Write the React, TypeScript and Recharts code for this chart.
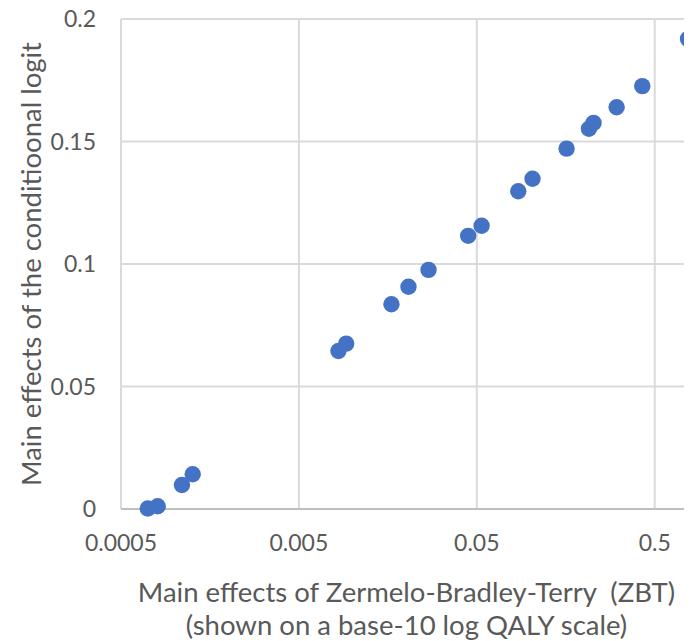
import { ScatterChart, Scatter, XAxis, YAxis, CartesianGrid } from 'recharts';

// ZBT main effects (x, log scale) vs conditional logit main effects (y)
const zbtEffects = [
  0.000707, 0.000804, 0.0011, 0.001265, 0.00834, 0.00922, 0.01656, 0.02065, 0.02676, 0.0447,
  0.0532, 0.0855, 0.1028, 0.1598, 0.2134, 0.2265, 0.3053, 0.4256, 0.7696,
];
const clogitEffects = [
  0.0002, 0.0011, 0.0098, 0.0142, 0.0645, 0.0675, 0.0836, 0.0907, 0.0976, 0.1115,
  0.1156, 0.1297, 0.1348, 0.1471, 0.1552, 0.1576, 0.164, 0.1726, 0.1919,
];
const xTicks = [0.0005, 0.005, 0.05, 0.5];
const yTicks = [0, 0.05, 0.1, 0.15, 0.2];

const points = zbtEffects.map((x, i) => ({ x, y: clogitEffects[i] }));

const FONT = 'Lato, "Open Sans", sans-serif';
const TEXT = '#595959';

// eslint-disable-next-line @typescript-eslint/no-explicit-any
function XTitle(props: any) {
  const { x, y, width } = props.viewBox;
  const cx = x + width / 2;
  return (
    <g fontFamily={FONT} fontSize={27.5} fill={TEXT}>
      <text x={cx} y={y + 82} textAnchor="middle" dominantBaseline="central">
        {'Main effects of Zermelo-Bradley-Terry\u00A0 (ZBT)'}
      </text>
      <text x={cx} y={y + 115} textAnchor="middle" dominantBaseline="central">
        (shown on a base-10 log QALY scale)
      </text>
    </g>
  );
}

// eslint-disable-next-line @typescript-eslint/no-explicit-any
function YTitle(props: any) {
  const { y, height } = props.viewBox;
  const cy = y + height / 2;
  return (
    <text
      x={22}
      y={cy}
      transform={`rotate(-90 22 ${cy})`}
      textAnchor="middle"
      dominantBaseline="central"
      fontFamily={FONT}
      fontSize={27.5}
      fill={TEXT}
    >
      Main effects of the conditioonal logit
    </text>
  );
}

export default function App() {
  return (
    <div style={{ width: 684, height: 641, marginTop: -8, overflow: 'hidden' }}>
      <ScatterChart width={684} height={641} margin={{ top: 19, right: 0, left: 0, bottom: 0 }}>
        <CartesianGrid stroke="#DADADA" strokeWidth={2} />
        <XAxis
          type="number"
          dataKey="x"
          scale="log"
          domain={[0.0005, 0.81]}
          ticks={xTicks}
          allowDataOverflow
          height={132}
          tickSize={0}
          tickMargin={26}
          tick={{ fontSize: 23, fill: TEXT, fontFamily: FONT }}
          axisLine={{ stroke: '#BFBFBF', strokeWidth: 2 }}
          tickLine={false}
          label={<XTitle />}
        />
        <YAxis
          type="number"
          dataKey="y"
          domain={[0, 0.2]}
          ticks={yTicks}
          width={113}
          tickSize={0}
          tickMargin={25}
          tick={{ fontSize: 23, fill: TEXT, fontFamily: FONT }}
          axisLine={false}
          tickLine={false}
          label={<YTitle />}
        />
        <Scatter
          data={points}
          isAnimationActive={false}
          // eslint-disable-next-line @typescript-eslint/no-explicit-any
          shape={(p: any) => <circle cx={p.cx} cy={p.cy} r={8.2} fill="#4472C4" />}
        />
      </ScatterChart>
    </div>
  );
}
